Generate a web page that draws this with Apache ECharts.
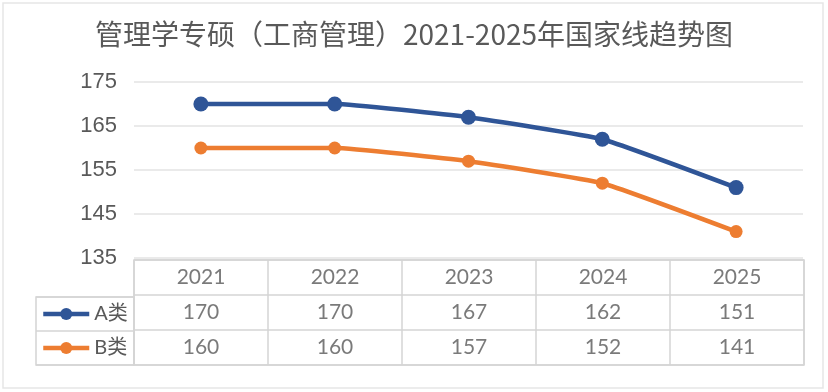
<!DOCTYPE html>
<html><head><meta charset="utf-8">
<script src="https://cdn.jsdelivr.net/npm/echarts@6/dist/echarts.min.js"></script>
<style>html,body{margin:0;padding:0;background:#fff}#c{width:828px;height:392px}</style>
</head><body><div id="c"></div>
<script>
const titleText = '管理学专硕（工商管理）2021-2025年国家线趋势图';
const years = ['2021','2022','2023','2024','2025'];
const seriesNames = ['A类','B类'];
const valuesA = [170,170,167,162,151];
const valuesB = [160,160,157,152,141];
const yTicks = {min:135, max:175, interval:10};

const colA = '#2F5597', colB = '#ED7D31';
const txt = '#595959';
const numFont = 'Lato, "Noto Sans CJK SC", sans-serif';

const tableData = [];
years.forEach((y,i)=>{ tableData.push([i,0,y]); });
valuesA.forEach((v,i)=>{ tableData.push([i,1,String(v)]); });
valuesB.forEach((v,i)=>{ tableData.push([i,2,String(v)]); });

const chart = echarts.init(document.getElementById('c'), null, {renderer:'canvas'});
chart.setOption({
  backgroundColor:'#fff',
  animation:false,
  title:{text:titleText,left:'center',top:15,textStyle:{fontFamily:'"Noto Sans CJK SC", sans-serif',fontSize:28,fontWeight:'normal',color:txt}},
  graphic:[{type:'rect',shape:{x:3,y:3,width:820,height:385},style:{fill:null,stroke:'#e6e6e6',lineWidth:1.5},silent:true,z:-1}],
  legend:{orient:'vertical',left:41,top:304,padding:0,itemWidth:46,itemHeight:15,itemGap:14,
    lineStyle:{width:4.5},
    textStyle:{fontSize:20,lineHeight:20,color:txt,fontFamily:numFont},
    data:seriesNames},
  grid:[
    {left:134,right:25,top:82,bottom:134,containLabel:false},
    {left:134,right:24,top:260,height:105,show:true,borderColor:'#d4d4d4',borderWidth:1.5,backgroundColor:'transparent'},
    {left:36,width:98,top:297,height:68,show:true,borderColor:'#d4d4d4',borderWidth:1.5,backgroundColor:'transparent'}
  ],
  xAxis:[
    {type:'category',gridIndex:0,data:years,boundaryGap:true,axisLine:{show:false},axisTick:{show:false},axisLabel:{show:false}},
    {type:'category',gridIndex:1,data:years,boundaryGap:true,axisLine:{show:false},axisTick:{show:false},axisLabel:{show:false},
      splitLine:{show:true,lineStyle:{color:'#d4d4d4',width:1.5}}},
    {type:'value',gridIndex:2,min:0,max:1,show:false}
  ],
  yAxis:[
    {type:'value',gridIndex:0,min:yTicks.min,max:yTicks.max,interval:yTicks.interval,
      axisLine:{show:false},axisTick:{show:false},
      axisLabel:{fontSize:22,color:txt,fontFamily:'"Liberation Sans", Arial, sans-serif',margin:17},
      splitLine:{lineStyle:{color:'#e3e3e3',width:1.5}}},
    {type:'category',gridIndex:1,data:['hdr','A','B'],inverse:true,boundaryGap:true,axisLine:{show:false},axisTick:{show:false},axisLabel:{show:false},
      splitLine:{show:true,lineStyle:{color:'#d4d4d4',width:1.5}}},
    {type:'category',gridIndex:2,data:seriesNames,inverse:true,axisLine:{show:false},axisTick:{show:false},axisLabel:{show:false},
      splitLine:{show:true,lineStyle:{color:'#d4d4d4',width:1.5}}}
  ],
  series:[
    {name:'A类',type:'line',xAxisIndex:0,yAxisIndex:0,data:valuesA,smooth:0.12,symbol:'circle',symbolSize:15,
      lineStyle:{color:colA,width:4.5},itemStyle:{color:colA}},
    {name:'B类',type:'line',xAxisIndex:0,yAxisIndex:0,data:valuesB,smooth:0.12,symbol:'circle',symbolSize:13,
      lineStyle:{color:colB,width:4.5},itemStyle:{color:colB}},
    {type:'scatter',xAxisIndex:1,yAxisIndex:1,data:tableData,symbolSize:0,silent:true,
      label:{show:true,position:'inside',formatter:p=>p.data[2],fontSize:21,color:txt,fontFamily:numFont}}
  ]
});
</script></body></html>
